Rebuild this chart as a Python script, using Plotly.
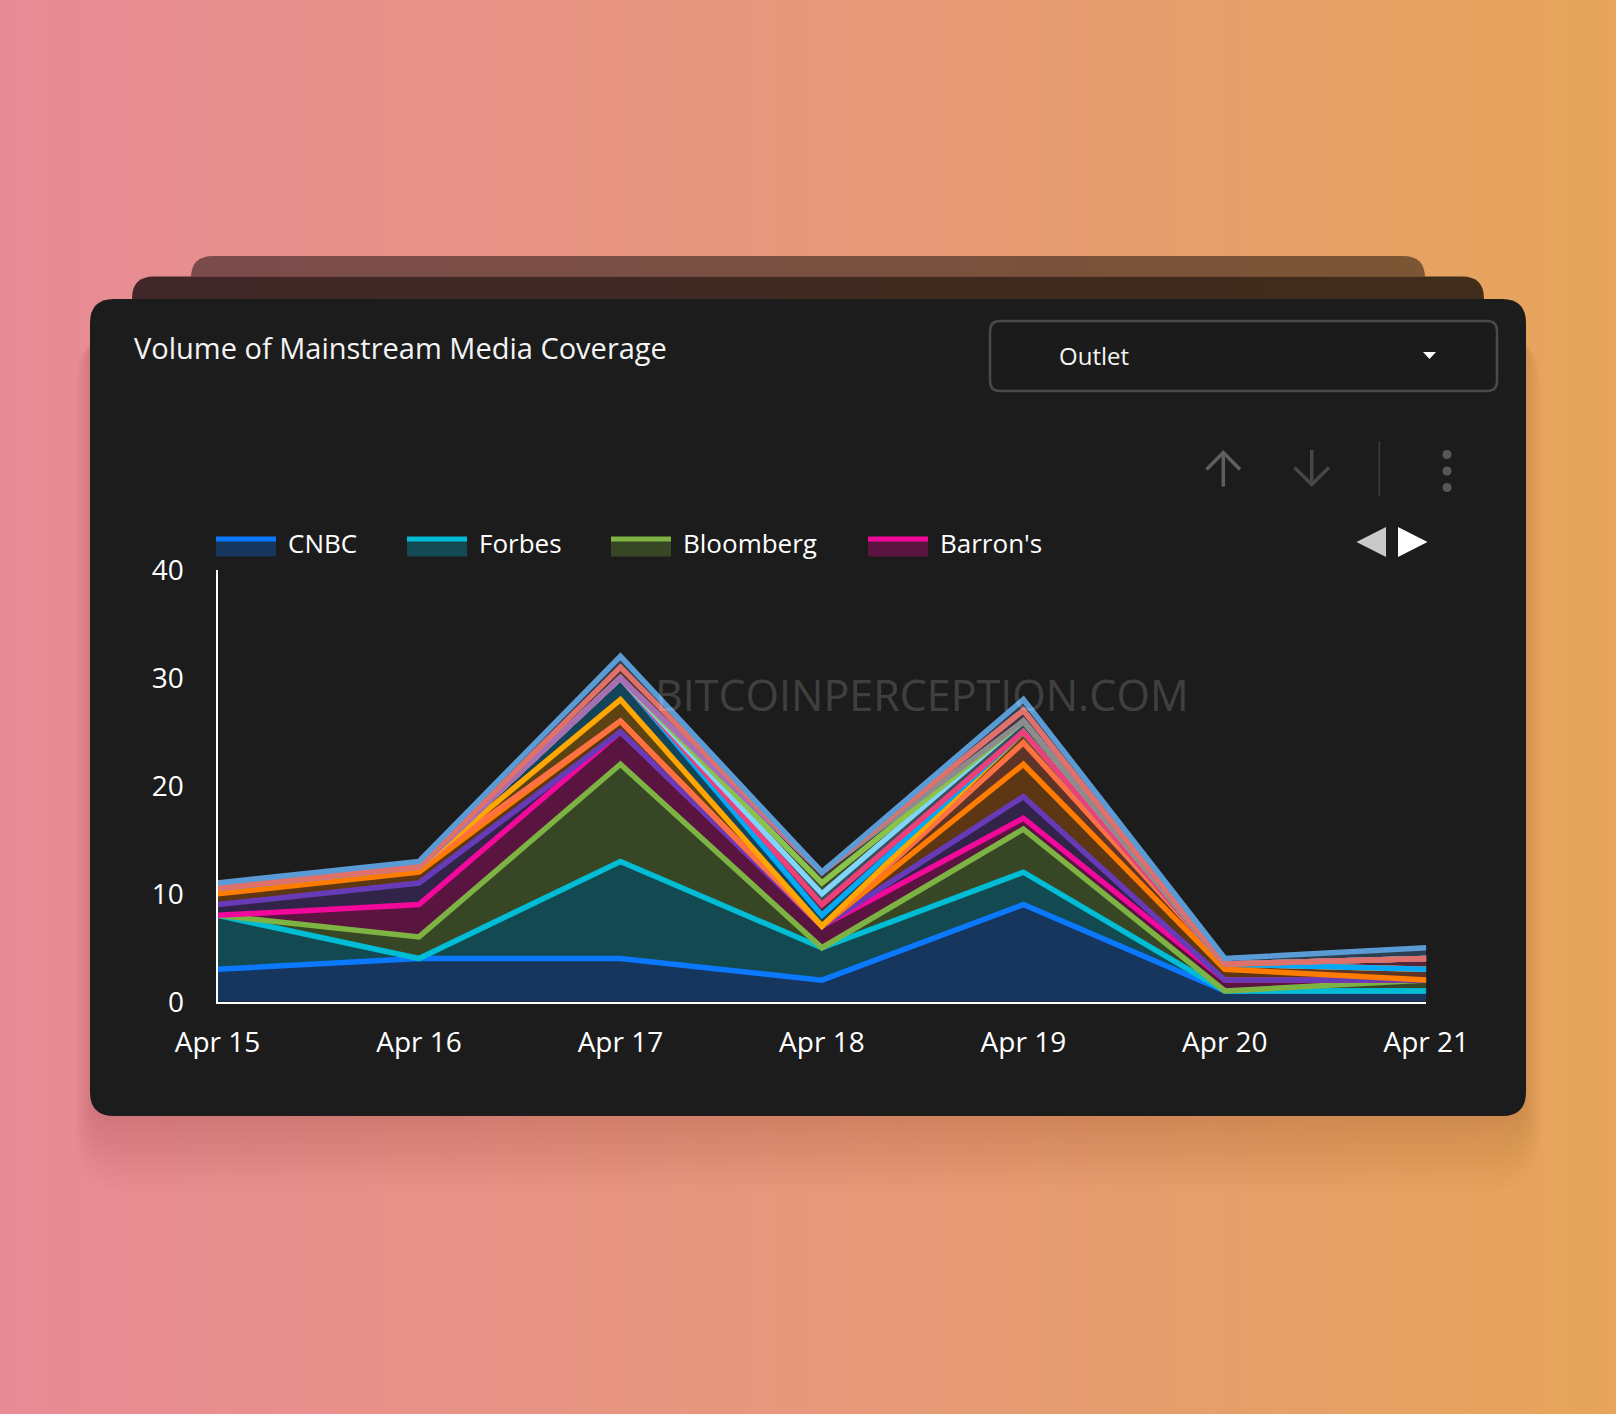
import base64
import plotly.graph_objects as go

# ---------------- data ----------------
dates = ["Apr 15", "Apr 16", "Apr 17", "Apr 18", "Apr 19", "Apr 20", "Apr 21"]

cnbc = [3, 4, 4, 2, 9, 1, 1]
forbes = [5, 0, 9, 3, 3, 0, 0]
bloomberg = [0, 2, 9, 0, 4, 0, 1]
barrons = [0, 3, 3, 2, 1, 1, 0]
outlet_purple = [1, 2, 0, 0, 2, 0, 0]
outlet_orange = [1, 1, 1, 0, 3, 1, 0]
outlet_coral = [0.5, 0.5, 0, 0, 2, 0.5, 1]
outlet_amber = [0, 0, 2, 0, 1, 0, 0]
outlet_sky = [0, 0, 2, 1, 0, 0, 0]
outlet_rose = [0, 0, 0, 1, 0, 0, 1]
outlet_lightsky = [0, 0, 0, 1, 1, 0, 0]
outlet_lightgreen = [0, 0, 0, 1, 0, 0, 0]
outlet_gray = [0, 0, 0, 1, 0, 0, 0]
outlet_mauve = [0, 0, 0, 0, 1, 0, 0]
outlet_salmon = [0, 0, 1, 0, 0, 0, 0]
outlet_steel = [0.5, 0.5, 1, 0, 1, 0.5, 1]

series_names = ["CNBC", "Forbes", "Bloomberg", "Barron's", "Outlet 5", "Outlet 6",
                "Outlet 7", "Outlet 8", "Outlet 9", "Outlet 10", "Outlet 11",
                "Outlet 12", "Outlet 13", "Outlet 14", "Outlet 15", "Outlet 16"]
series_values = [cnbc, forbes, bloomberg, barrons, outlet_purple, outlet_orange,
                 outlet_coral, outlet_amber, outlet_sky, outlet_rose, outlet_lightsky,
                 outlet_lightgreen, outlet_gray, outlet_mauve, outlet_salmon, outlet_steel]
series_colors = ["#0a78ff", "#00bcd4", "#7cb342", "#f2089b", "#673ab7", "#ff7c00",
                 "#ff7043", "#ffa600", "#03a9f4", "#ec407a", "#81d4fa",
                 "#8bc34a", "#8c8c8c", "#a66fb5", "#e0706a", "#5b9bd5"]
legend_count = 4
y_ticks = [0, 10, 20, 30, 40]

# ---------------- geometry helpers ----------------
W, H = 1616, 1414


def px(x):
    return x / W


def py(y):
    return 1 - y / H


def rrect(x0, y0, x1, y1, r, top_only=False):
    if top_only:
        return (f"M {px(x0)},{py(y1)} L {px(x0)},{py(y0 + r)} Q {px(x0)},{py(y0)} {px(x0 + r)},{py(y0)} "
                f"L {px(x1 - r)},{py(y0)} Q {px(x1)},{py(y0)} {px(x1)},{py(y0 + r)} L {px(x1)},{py(y1)} Z")
    return (f"M {px(x0 + r)},{py(y0)} L {px(x1 - r)},{py(y0)} Q {px(x1)},{py(y0)} {px(x1)},{py(y0 + r)} "
            f"L {px(x1)},{py(y1 - r)} Q {px(x1)},{py(y1)} {px(x1 - r)},{py(y1)} "
            f"L {px(x0 + r)},{py(y1)} Q {px(x0)},{py(y1)} {px(x0)},{py(y1 - r)} "
            f"L {px(x0)},{py(y0 + r)} Q {px(x0)},{py(y0)} {px(x0 + r)},{py(y0)} Z")


def hex_rgba(h, a):
    h = h.lstrip("#")
    return f"rgba({int(h[0:2], 16)},{int(h[2:4], 16)},{int(h[4:6], 16)},{a})"


FONT = "Open Sans, Lato, DejaVu Sans, sans-serif"

fig = go.Figure()

for name, vals, col in zip(series_names, series_values, series_colors):
    fig.add_trace(go.Scatter(
        x=dates, y=vals, name=name, stackgroup="one", mode="lines",
        line=dict(color=col, width=5.5, shape="linear"),
        fillcolor=hex_rgba(col, 0.29), hoverinfo="skip", showlegend=False,
    ))

shapes = []
# soft shadow under main card
for i in range(12):
    e = i * 3
    shapes.append(dict(type="path", xref="paper", yref="paper", layer="below",
                       path=rrect(92 - e * 0.5, 330, 1524 + e * 0.5, 1118 + 2.2 * e, 24 + e),
                       fillcolor="rgba(70,20,10,0.012)", line=dict(width=0)))
# stacked back cards
shapes.append(dict(type="path", xref="paper", yref="paper", layer="below",
                   path=rrect(191, 256, 1425, 276.5, 22, top_only=True),
                   fillcolor="rgba(0,0,0,0.47)", line=dict(width=0)))
shapes.append(dict(type="path", xref="paper", yref="paper", layer="below",
                   path=rrect(132, 276.5, 1484, 299.5, 22, top_only=True),
                   fillcolor="rgba(0,0,0,0.72)", line=dict(width=0)))
# main card
shapes.append(dict(type="path", xref="paper", yref="paper", layer="below",
                   path=rrect(90, 299, 1526, 1116, 24),
                   fillcolor="#1c1c1c", line=dict(width=0)))
# dropdown
shapes.append(dict(type="path", xref="paper", yref="paper", layer="below",
                   path=rrect(990, 321, 1497, 391, 10),
                   fillcolor="#1b1b1b", line=dict(color="#4a4a4a", width=2.5)))
shapes.append(dict(type="path", xref="paper", yref="paper",
                   path=f"M {px(1423)},{py(352)} L {px(1436)},{py(352)} L {px(1429.5)},{py(359)} Z",
                   fillcolor="#ffffff", line=dict(width=0)))
# toolbar icons
up_col, down_col = "#5e5e5e", "#474747"
shapes.append(dict(type="path", xref="paper", yref="paper",
                   path=f"M {px(1223.3)},{py(486.5)} L {px(1223.3)},{py(452.5)}",
                   line=dict(color=up_col, width=3.5)))
shapes.append(dict(type="path", xref="paper", yref="paper",
                   path=f"M {px(1206.5)},{py(469.5)} L {px(1223.3)},{py(452.5)} L {px(1240)},{py(469.5)}",
                   line=dict(color=up_col, width=3.5)))
shapes.append(dict(type="path", xref="paper", yref="paper",
                   path=f"M {px(1311.7)},{py(450)} L {px(1311.7)},{py(484.5)}",
                   line=dict(color=down_col, width=3.5)))
shapes.append(dict(type="path", xref="paper", yref="paper",
                   path=f"M {px(1294.5)},{py(467.5)} L {px(1311.7)},{py(484.5)} L {px(1329)},{py(467.5)}",
                   line=dict(color=down_col, width=3.5)))
shapes.append(dict(type="line", xref="paper", yref="paper",
                   x0=px(1379.3), x1=px(1379.3), y0=py(441.5), y1=py(496),
                   line=dict(color="#363636", width=2)))
for cy in (454.5, 471, 487.5):
    shapes.append(dict(type="circle", xref="paper", yref="paper",
                       x0=px(1447 - 4.6), x1=px(1447 + 4.6), y0=py(cy - 4.6), y1=py(cy + 4.6),
                       fillcolor="#575757", line=dict(width=0)))
# legend paging arrows
shapes.append(dict(type="path", xref="paper", yref="paper",
                   path=f"M {px(1356.5)},{py(542)} L {px(1386)},{py(527)} L {px(1386)},{py(557)} Z",
                   fillcolor="#c9c9c9", line=dict(width=0)))
shapes.append(dict(type="path", xref="paper", yref="paper",
                   path=f"M {px(1398)},{py(527)} L {px(1427.5)},{py(542)} L {px(1398)},{py(557)} Z",
                   fillcolor="#ffffff", line=dict(width=0)))

# legend swatches + labels
swatch_x = [216, 407, 611, 868]
label_x = [286, 476.5, 680.5, 937.5]
annotations = []
for i in range(legend_count):
    col = series_colors[i]
    x0 = swatch_x[i]
    shapes.append(dict(type="rect", xref="paper", yref="paper",
                       x0=px(x0), x1=px(x0 + 60), y0=py(556.5), y1=py(540),
                       fillcolor=hex_rgba(col, 0.29), line=dict(width=0)))
    shapes.append(dict(type="rect", xref="paper", yref="paper",
                       x0=px(x0), x1=px(x0 + 60), y0=py(541.5), y1=py(536.5),
                       fillcolor=col, line=dict(width=0)))
    annotations.append(dict(x=px(label_x[i]), y=py(543), xref="paper", yref="paper",
                            xanchor="left", yanchor="middle", showarrow=False,
                            text=series_names[i], font=dict(family=FONT, size=26, color="#ffffff")))

annotations.append(dict(x=px(132), y=py(347.5), xref="paper", yref="paper",
                        xanchor="left", yanchor="middle", showarrow=False,
                        text="Volume of Mainstream Media Coverage",
                        font=dict(family=FONT, size=29, color="#f4f4f4")))
annotations.append(dict(x=px(1057), y=py(355), xref="paper", yref="paper",
                        xanchor="left", yanchor="middle", showarrow=False,
                        text="Outlet", font=dict(family=FONT, size=24, color="#f4f4f4")))
annotations.append(dict(x=px(922), y=py(694), xref="paper", yref="paper",
                        xanchor="center", yanchor="middle", showarrow=False,
                        text="BITCOINPERCEPTION.COM",
                        font=dict(family=FONT, size=43, color="rgba(255,255,255,0.18)")))

svg = ('<svg xmlns="http://www.w3.org/2000/svg" width="1616" height="1414" preserveAspectRatio="none">'
       '<defs><linearGradient id="g" x1="0" y1="0" x2="1" y2="0">'
       '<stop offset="0" stop-color="#e88b96"/><stop offset="0.5" stop-color="#e7987b"/>'
       '<stop offset="1" stop-color="#e6a55a"/></linearGradient></defs>'
       '<rect width="1616" height="1414" fill="url(#g)"/></svg>')
bg_src = "data:image/svg+xml;base64," + base64.b64encode(svg.encode()).decode()

fig.update_layout(
    width=W, height=H, autosize=False,
    margin=dict(l=0, r=0, t=0, b=0, pad=0, autoexpand=False),
    paper_bgcolor="#e79a7a", plot_bgcolor="rgba(0,0,0,0)",
    showlegend=False,
    shapes=shapes, annotations=annotations,
    images=[dict(source=bg_src, xref="paper", yref="paper", x=0, y=1, sizex=1, sizey=1,
                 xanchor="left", yanchor="top", sizing="stretch", layer="below")],
    font=dict(family=FONT, color="#ffffff"),
    xaxis=dict(type="category", range=[0, len(dates) - 1], domain=[px(217.5), px(1426.3)],
               showline=True, linecolor="#ffffff", linewidth=2, showgrid=False, zeroline=False,
               ticks="", tickfont=dict(family=FONT, size=28, color="#ffffff"),
               ticklabelstandoff=15, fixedrange=True, automargin=False),
    yaxis=dict(range=[0, 40], domain=[py(1001.7), py(570)], tickvals=y_ticks,
               showline=True, linecolor="#ffffff", linewidth=2, showgrid=False, zeroline=False,
               ticks="", tickfont=dict(family=FONT, size=28, color="#ffffff"),
               ticklabelstandoff=26, fixedrange=True, automargin=False),
)

fig.write_html("out.html", config={"displayModeBar": False, "responsive": False},
               post_script="document.body.style.margin='0';document.body.style.overflow='hidden';")
